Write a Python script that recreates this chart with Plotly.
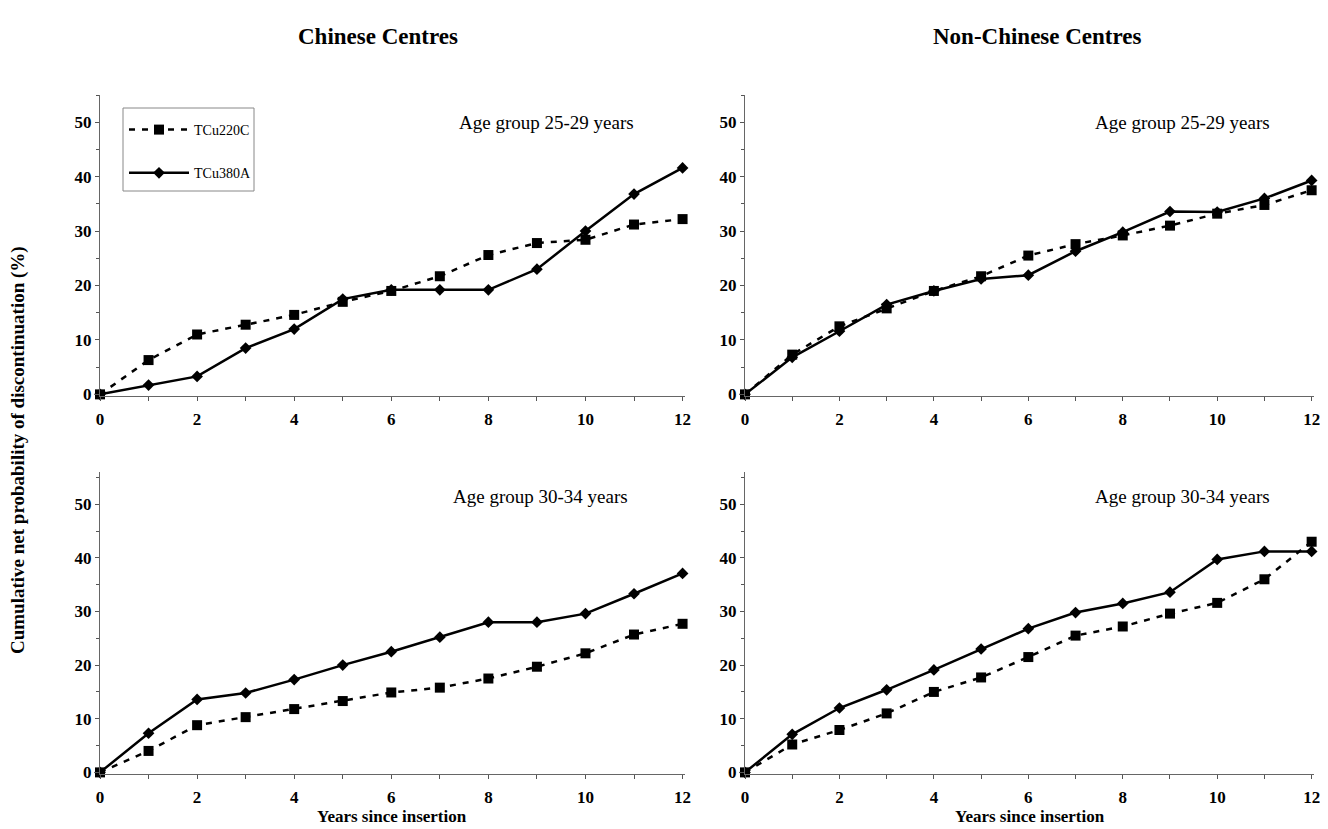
import plotly.graph_objects as go

years = list(range(13))

cn_2529_220c = [0, 6.3, 11.0, 12.8, 14.6, 17.0, 19.0, 21.7, 25.6, 27.8, 28.4, 31.2, 32.2]
cn_2529_380a = [0, 1.7, 3.3, 8.5, 12.0, 17.5, 19.2, 19.2, 19.2, 23.0, 30.0, 36.8, 41.6]
nc_2529_220c = [0, 7.3, 12.5, 15.8, 19.0, 21.7, 25.5, 27.6, 29.2, 31.0, 33.2, 34.8, 37.5]
nc_2529_380a = [0, 6.8, 11.6, 16.5, 19.0, 21.2, 21.9, 26.3, 29.8, 33.6, 33.5, 36.0, 39.3]
cn_3034_220c = [0, 4.0, 8.8, 10.3, 11.8, 13.3, 14.9, 15.8, 17.5, 19.7, 22.2, 25.7, 27.7]
cn_3034_380a = [0, 7.3, 13.6, 14.8, 17.3, 20.0, 22.5, 25.2, 28.0, 28.0, 29.6, 33.3, 37.1]
nc_3034_220c = [0, 5.2, 7.9, 11.0, 15.0, 17.7, 21.5, 25.5, 27.2, 29.6, 31.6, 36.0, 43.0]
nc_3034_380a = [0, 7.1, 12.0, 15.4, 19.1, 23.0, 26.8, 29.8, 31.5, 33.6, 39.7, 41.2, 41.2]

panels = [
    ("x", "y", cn_2529_220c, cn_2529_380a, "Age group 25-29 years"),
    ("x2", "y2", nc_2529_220c, nc_2529_380a, "Age group 25-29 years"),
    ("x3", "y3", cn_3034_220c, cn_3034_380a, "Age group 30-34 years"),
    ("x4", "y4", nc_3034_220c, nc_3034_380a, "Age group 30-34 years"),
]

FONT = "Liberation Serif, Times New Roman, serif"
OFF = 8                     # page body margin
W, H = 1328 - OFF, 829 - OFF


def fx(px):
    return (px - OFF) / W


def fy(py):
    return 1 - (py - OFF) / H


fig = go.Figure()
for i, (xa, ya, s220, s380, lab) in enumerate(panels):
    fig.add_trace(go.Scatter(
        x=years, y=s220, xaxis=xa, yaxis=ya, mode="lines+markers",
        name="TCu220C", legendgroup="a", showlegend=(i == 0),
        line=dict(color="black", width=2.5, dash="6px,7px"),
        marker=dict(symbol="square", size=10, color="black"),
        cliponaxis=False))
    fig.add_trace(go.Scatter(
        x=years, y=s380, xaxis=xa, yaxis=ya, mode="lines+markers",
        name="TCu380A", legendgroup="b", showlegend=(i == 0),
        line=dict(color="black", width=2.5),
        marker=dict(symbol="diamond", size=9, color="black"),
        cliponaxis=False))

xdoms = [[fx(100), fx(685)], [fx(745), fx(1314)]]
# (pixel of y=0 line, pixel of top of axis)
ydoms = [[fy(396), fy(95)], [fy(774), fy(472)]]
yranges = [[-0.3, 55.0], [-0.3, 56.0]]

TICKFONT = dict(family=FONT, size=17, color="black", weight="bold")

layout = {}
for k in range(4):
    col, row = k % 2, k // 2
    sx = "" if k == 0 else str(k + 1)
    layout["xaxis" + sx] = dict(
        domain=xdoms[col], anchor="y" + sx, range=[0, 12.05],
        tickmode="linear", tick0=0, dtick=2,
        ticks="outside", ticklen=4, tickcolor="#555",
        minor=dict(dtick=1, ticks="outside", ticklen=4, tickcolor="#555"),
        showline=True, linecolor="#666", linewidth=1,
        showgrid=False, zeroline=False, automargin=False,
        ticklabelstandoff=4,
        tickfont=TICKFONT,
    )
    layout["yaxis" + sx] = dict(
        domain=ydoms[row], anchor="x" + sx, range=yranges[row],
        tickmode="linear", tick0=0, dtick=10,
        ticks="outside", ticklen=4, tickcolor="#555",
        minor=dict(dtick=5, ticks="outside", ticklen=3, tickcolor="#555"),
        showline=True, linecolor="#666", linewidth=1,
        showgrid=False, zeroline=False, automargin=False,
        tickfont=TICKFONT,
    )


def ann(text, x, y, size, bold=False, angle=0):
    return dict(text=f"<b>{text}</b>" if bold else text, x=fx(x), y=fy(y),
                xref="paper", yref="paper", xanchor="center", yanchor="middle",
                showarrow=False, textangle=angle,
                font=dict(family=FONT, size=size, color="black"))


annotations = [
    ann("Chinese Centres", 378, 37, 23, bold=True),
    ann("Non-Chinese Centres", 1037, 37, 23, bold=True),
    ann("Cumulative net probability of discontinuation (%)", 18, 450, 19, bold=True, angle=-90),
    ann("Years since insertion", 392, 816, 17, bold=True),
    ann("Years since insertion", 1030, 816, 17, bold=True),
]
ann_pos = [(546, 123), (1182, 123), (540, 496), (1182, 496)]
for (xa, ya, s220, s380, lab), (ax, ay) in zip(panels, ann_pos):
    annotations.append(ann(lab, ax, ay, 19))

shapes = [dict(type="rect", xref="paper", yref="paper",
               x0=fx(123), x1=fx(254), y0=fy(191), y1=fy(108),
               line=dict(color="#888", width=1), fillcolor="rgba(0,0,0,0)")]

fig.update_layout(
    width=W, height=H,
    margin=dict(l=0, r=0, t=0, b=0),
    paper_bgcolor="white", plot_bgcolor="white",
    showlegend=True,
    legend=dict(x=fx(124), y=fy(114), xanchor="left", yanchor="top",
                borderwidth=0, bgcolor="rgba(0,0,0,0)",
                tracegroupgap=22, itemwidth=60,
                font=dict(family=FONT, size=14, color="black")),
    annotations=annotations,
    shapes=shapes,
    **layout,
)

fig.write_html("out.html")
